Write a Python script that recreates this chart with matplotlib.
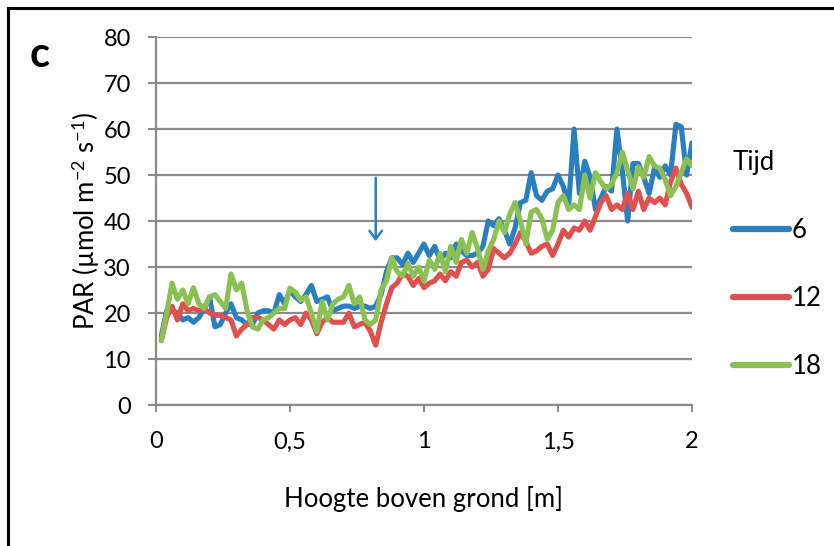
import numpy as np
import matplotlib
matplotlib.use("Agg")
import matplotlib.pyplot as plt
from matplotlib.lines import Line2D

plt.rcParams['font.family'] = ['Lato', 'DejaVu Sans']
plt.rcParams['mathtext.fontset'] = 'custom'
plt.rcParams['mathtext.rm'] = 'Lato'
plt.rcParams['mathtext.it'] = 'Lato:italic'

# height above ground [m], one sample every 2 cm
hoogte = np.round(np.arange(1, 101) * 0.02, 2)

# PAR per time of day
par_6 = [15, 20.5, 20.5, 20, 18.5, 19, 18, 19, 21, 23.5,
         17, 17.5, 20, 22, 19, 18.5, 17.5, 17.5, 20, 20.5,
         20.5, 20, 24, 22, 25, 23.5, 22.5, 24, 26, 22.5,
         23, 23.5, 20.5, 21, 21.5, 21.5, 21, 21.5, 21.5, 21,
         21.5, 24, 29, 32, 32, 30.5, 33, 31, 33, 35,
         32.5, 34.5, 31.5, 33, 32, 35, 33.5, 32.5, 32.5, 33,
         34.5, 40, 39, 40.5, 38, 35, 38.5, 44, 44.5, 50.5,
         45.5, 44.5, 46.5, 47, 50, 47.5, 43.5, 60, 46, 53,
         49.5, 42.5, 45, 47.5, 46.5, 60, 51, 40, 52.5, 52.5,
         49.5, 46, 51.5, 49.5, 52, 50, 61, 60.5, 50, 57]
par_12 = [14, 19, 21.5, 18.5, 22, 20.5, 21, 20.5, 21, 20,
          19.5, 19.5, 19, 18.5, 15, 16.5, 17.5, 19, 19, 18.5,
          17.5, 16.5, 18.5, 17.5, 18.5, 19, 17.5, 20, 18.5, 15.5,
          18, 19, 18, 18, 18, 20, 17, 17.5, 18, 16,
          13, 18, 22, 25.5, 26.5, 28.5, 28, 26, 27.5, 25.5,
          26.5, 27, 28.5, 27, 29, 28, 31, 31.5, 30, 31,
          28, 29.5, 34, 33, 32, 33, 35, 37.5, 35.5, 33,
          33.5, 34.5, 35, 32.5, 35, 38, 36.5, 38.5, 38, 40,
          38, 41, 44, 45.5, 42.5, 43.5, 42.5, 46, 42.5, 46.5,
          42.5, 45, 44, 45, 43.5, 48.5, 51.5, 48, 46, 43]
par_18 = [14, 20, 26.5, 23, 25, 22, 25.5, 22, 21, 23.5,
          24, 22.5, 21, 28.5, 25, 26.5, 20.5, 17, 16.5, 18.5,
          19, 20, 21, 21, 25.4, 24.5, 22.8, 23.5, 20, 16,
          22.5, 18.5, 22, 23, 23.5, 26, 22, 23.5, 18.5, 17.5,
          18.5, 25, 27, 32, 29, 28, 30.8, 28, 30, 27,
          31.5, 29.5, 33, 29, 34.5, 31, 36, 33, 37.5, 34,
          29.5, 33.5, 36, 40, 37.5, 41.5, 44, 40, 35, 42,
          42.5, 40.5, 36, 38, 44, 45.5, 42.5, 43.5, 42.5, 50,
          45, 50.5, 48.5, 47, 48, 50.5, 55, 51, 47, 51.8,
          49.5, 54, 52, 51.5, 49, 45.5, 47.5, 50.5, 53.5, 52]

tijden = ['6', '12', '18']
kleuren = ['#2A7FC1', '#E0504D', '#8BC153']
pijl_x = 0.82
fs = 18.5
fs_tick = 17

fig = plt.figure(figsize=(8.34, 5.46), dpi=100)
ax = fig.add_axes([0.187, 0.2582, 0.6427, 0.674])

for reeks, tijd, kleur in zip([par_6, par_12, par_18], tijden, kleuren):
    ax.plot(hoogte, reeks, color=kleur, lw=3.7, label=tijd,
            solid_joinstyle='round', solid_capstyle='round')

ax.set_xlim(0, 2)
ax.set_ylim(0, 80)
ax.set_xticks([0, 0.5, 1, 1.5, 2])
ax.set_xticklabels(['0', '0,5', '1', '1,5', '2'])
ax.set_yticks(range(0, 81, 10))
ax.yaxis.grid(True, color='#8a8a8a', lw=1.6)
ax.set_axisbelow(True)
for s in ['top', 'right']:
    ax.spines[s].set_visible(False)
for s in ['left', 'bottom']:
    ax.spines[s].set_color('#8a8a8a')
    ax.spines[s].set_linewidth(1.6)
ax.tick_params(axis='y', length=6, width=1.4, color='#8a8a8a', pad=12,
               labelsize=fs_tick)
ax.tick_params(axis='x', length=5, width=1.4, color='#8a8a8a', pad=14,
               labelsize=fs_tick)

ax.set_xlabel('Hoogte boven grond [m]', fontsize=fs, labelpad=24)
ax.set_ylabel(r'PAR (µmol m$^{-2}$ s$^{-1}$)', fontsize=fs)
ax.yaxis.set_label_coords(-0.1, 0.5)

ax.annotate('', xy=(pijl_x, 35), xytext=(pijl_x, 50),
            arrowprops=dict(arrowstyle='->, head_width=0.45, head_length=0.6',
                            color=kleuren[0], lw=1.8))

leg = ax.legend(title='Tijd', loc='upper left', bbox_to_anchor=(0.866, 0.745),
                bbox_transform=fig.transFigure, frameon=False, fontsize=fs,
                title_fontsize=fs, alignment='left', labelspacing=1.68,
                handlelength=2.2, handletextpad=0.1, borderaxespad=0)
for h in leg.get_lines():
    h.set_linewidth(4.5)
    h.set_solid_capstyle('round')

fig.text(0.047, 0.9, 'c', fontsize=30, fontweight='bold', ha='center', va='center')

# black frame around the panel
fig.add_artist(Line2D([8 / 834, 8 / 834], [0, 1 - 8 / 546], color='black',
                      lw=2.2, transform=fig.transFigure))
fig.add_artist(Line2D([8 / 834, 1], [1 - 8 / 546, 1 - 8 / 546], color='black',
                      lw=2.2, transform=fig.transFigure))

fig.savefig('out.png', dpi=100)
